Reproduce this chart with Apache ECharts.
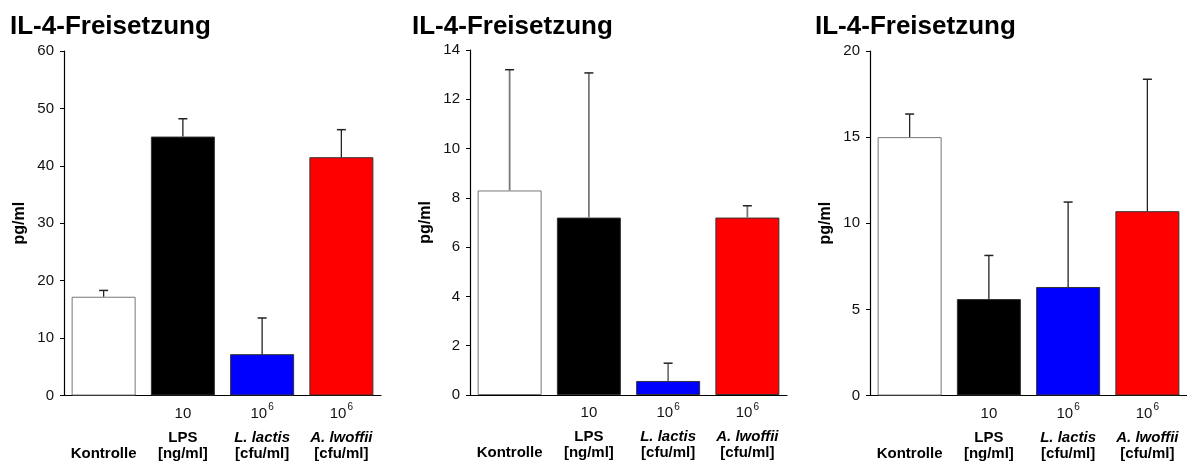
<!DOCTYPE html>
<html>
<head>
<meta charset="utf-8">
<script src="https://cdn.jsdelivr.net/npm/echarts@6/dist/echarts.min.js"></script>
<style>
html,body{margin:0;padding:0;background:#fff;}
#c{width:1187px;height:461px;}
</style>
</head>
<body>
<div id="c"></div>
<script>
const titleText = 'IL-4-Freisetzung';
const yName = 'pg/ml';
const categories = ['Kontrolle', 'LPS', 'L. lactis', 'A. lwoffii'];
const doses = ['', '10', '10', '10'];
const doseExp = ['', '', '6', '6'];
const units = ['', '[ng/ml]', '[cfu/ml]', '[cfu/ml]'];
const barColors = ['#ffffff', '#000000', '#0000ff', '#ff0000'];
const barBorders = ['#777777', '#333333', '#333333', '#333333'];

// Panel 1
const p1Mean = [17.2, 45.1, 7.2, 41.5];
const p1Sd = [1.1, 3.1, 6.3, 4.8];
const p1Axis = { max: 60, interval: 10 };
// Panel 2
const p2Mean = [8.3, 7.2, 0.57, 7.2];
const p2Sd = [4.9, 5.87, 0.72, 0.48];
const p2Axis = { max: 14, interval: 2 };
// Panel 3
const p3Mean = [15.0, 5.6, 6.3, 10.7];
const p3Sd = [1.34, 2.53, 4.93, 7.66];
const p3Axis = { max: 20, interval: 5 };

const FONT = 'Liberation Sans, Arial, Helvetica, sans-serif';

const panels = [
  { mean: p1Mean, sd: p1Sd, axis: p1Axis, left: 64, top: 51, width: 317, height: 345, titleLeft: 10, errColor: '#222222', errWidth: 1.3 },
  { mean: p2Mean, sd: p2Sd, axis: p2Axis, left: 470, top: 50, width: 317, height: 345, titleLeft: 412, errColor: '#777777', errWidth: 1.8 },
  { mean: p3Mean, sd: p3Sd, axis: p3Axis, left: 870, top: 51, width: 317, height: 345, titleLeft: 815, errColor: '#222222', errWidth: 1.3 }
];

function labelFormatter(value, index) {
  const i = categories.indexOf(value);
  let l1;
  if (!doses[i]) l1 = '{n| }';
  else if (doseExp[i]) l1 = '{n|' + doses[i] + '}{s|' + doseExp[i] + '}';
  else l1 = '{n|' + doses[i] + '}';
  let l2, l3;
  if (i === 0) { l2 = '{b| }'; l3 = '{b|' + value + '}'; }
  else if (i === 1) { l2 = '{b|' + value + '}'; l3 = '{b|' + units[i] + '}'; }
  else { l2 = '{bi|' + value + '}'; l3 = '{b|' + units[i] + '}'; }
  return l1 + '\n' + l2 + '\n' + l3;
}

const option = {
  animation: false,
  backgroundColor: '#ffffff',
  textStyle: { fontFamily: FONT },
  title: panels.map(p => ({
    text: titleText, left: p.titleLeft, top: 14, padding: 0,
    textStyle: { fontFamily: FONT, fontSize: 26, fontWeight: 'bold', color: '#000' }
  })),
  grid: panels.map(p => ({ left: p.left, top: p.top, width: p.width, height: p.height, containLabel: false })),
  xAxis: panels.map((p, gi) => ({
    type: 'category', gridIndex: gi, data: categories,
    axisLine: { lineStyle: { color: '#000', width: 1.2 } },
    axisTick: { show: false },
    axisLabel: {
      interval: 0, margin: 2, formatter: labelFormatter, color: '#000', fontFamily: FONT,
      rich: {
        n: { fontSize: 15, lineHeight: 32, fontFamily: FONT, color: '#111' },
        s: { fontSize: 10, lineHeight: 10, verticalAlign: 'top', padding: [5, 0, 0, 1], fontFamily: FONT, color: '#111' },
        b: { fontSize: 15, lineHeight: 16, fontWeight: 'bold', fontFamily: FONT, color: '#000' },
        bi: { fontSize: 15, lineHeight: 16, fontWeight: 'bold', fontStyle: 'italic', fontFamily: FONT, color: '#000' }
      }
    }
  })),
  yAxis: panels.map((p, gi) => ({
    type: 'value', gridIndex: gi, min: 0, max: p.axis.max, interval: p.axis.interval,
    name: yName, nameLocation: 'middle', nameGap: 36,
    nameTextStyle: { fontFamily: FONT, fontSize: 16, fontWeight: 'bold', color: '#000' },
    axisLine: { show: true, lineStyle: { color: '#000', width: 1.2 } },
    axisTick: { show: true, length: 4, lineStyle: { color: '#000' } },
    axisLabel: { fontSize: 15, color: '#111', margin: 10, fontFamily: FONT },
    splitLine: { show: false }
  })),
  series: []
};

panels.forEach((p, gi) => {
  option.series.push({
    type: 'bar', xAxisIndex: gi, yAxisIndex: gi, barWidth: 64,
    data: p.mean.map((v, i) => ({ value: v, itemStyle: { color: barColors[i], borderColor: barBorders[i], borderWidth: 1 } })),
    z: 2
  });
  option.series.push({
    type: 'custom', xAxisIndex: gi, yAxisIndex: gi, z: 3,
    data: p.mean.map((v, i) => [i, v, v + p.sd[i]]),
    encode: { x: 0, y: [1, 2] },
    renderItem: function (params, api) {
      const base = api.coord([api.value(0), api.value(1)]);
      const top = api.coord([api.value(0), api.value(2)]);
      const hw = 4.5;
      return {
        type: 'group',
        children: [
          { type: 'line', shape: { x1: base[0], y1: base[1], x2: base[0], y2: top[1] }, style: { stroke: p.errColor, lineWidth: p.errWidth } },
          { type: 'line', shape: { x1: base[0] - hw, y1: top[1], x2: base[0] + hw, y2: top[1] }, style: { stroke: '#222', lineWidth: 1.5 } }
        ]
      };
    }
  });
});

const chart = echarts.init(document.getElementById('c'), null, { renderer: 'canvas' });
chart.setOption(option);
</script>
</body>
</html>
